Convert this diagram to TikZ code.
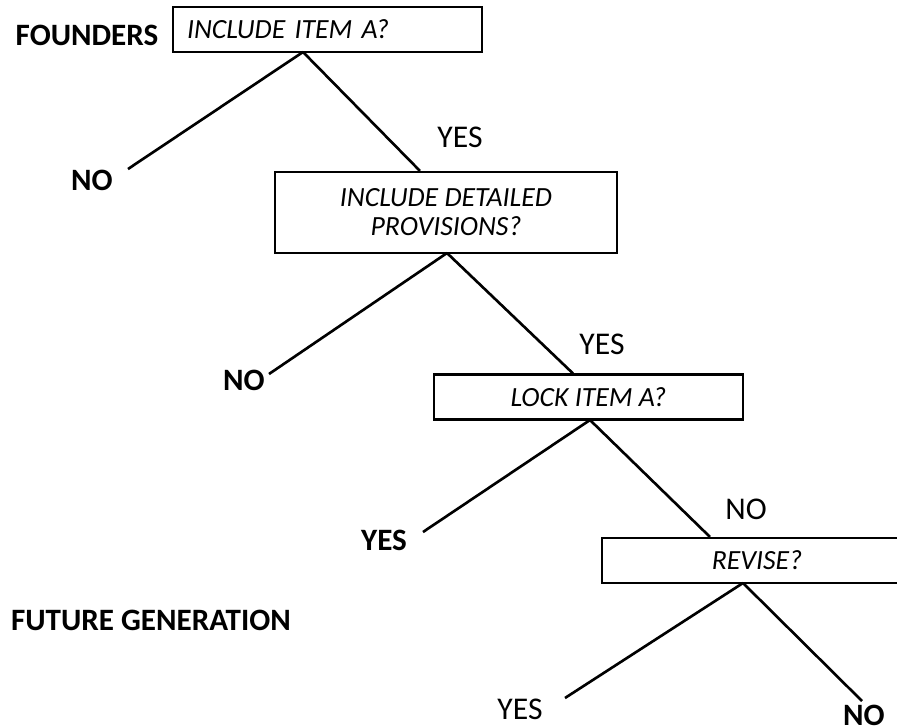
\documentclass[tikz,border=0pt]{standalone}
\usepackage{fontspec}
\setmainfont{Carlito}
\usepackage{tikz}
\usetikzlibrary{positioning}

\begin{document}
\begin{tikzpicture}[
  x=0.02cm, y=-0.02cm,
  every node/.style={inner sep=0pt, font=\fontsize{18}{20}\selectfont},
  question/.style={
    draw,
    rectangle,
    line width=1.2pt,
    align=center,
    minimum height=0.9cm,
    font=\fontsize{15.8}{16.5}\selectfont\itshape
  },
  answer/.style={},
  party/.style={font=\fontsize{17.7}{20}\selectfont\bfseries},
  branch/.style={line width=1.5pt}
]
\useasboundingbox (0,0) rectangle (897,725);
\clip (0,0) rectangle (897,725);

% decision boxes
\node (incl) [question, minimum width=6.18cm, text width=5.62cm, align=left]
  at (327.5,29.5) {INCLUDE ITEM A?};
\node (detail) [question, minimum width=6.84cm, minimum height=1.62cm]
  at (446,212.5) {INCLUDE DETAILED\\PROVISIONS?};
\node (lock) [question, minimum width=6.18cm]
  at (588.5,397) {LOCK ITEM A?};
\node (revise) [question, minimum width=6.2cm]
  at (757,560.5) {REVISE?};

% who decides
\node (founders) [party] at (87,35) {FOUNDERS};
\node (future) [party] at (151,620) {FUTURE GENERATION};

% forks and free ends
\coordinate (inclfork) at (303,52);
\coordinate (detailfork) at (447,253);
\coordinate (lockfork) at (590,420);
\coordinate (revisefork) at (743,583);
\coordinate (inclno) at (128,169);
\coordinate (detailno) at (269,374);
\coordinate (lockyes) at (423,532);
\coordinate (reviseyes) at (565,698);
\coordinate (reviseno) at (862,701);

\draw[branch] (inclfork) -- (inclno);
\draw[branch] (inclfork) -- (detail.north -| 420,0);
\draw[branch] (detailfork) -- (detailno);
\draw[branch] (detailfork) -- (lock.north -| 573,0);
\draw[branch] (lockfork) -- (lockyes);
\draw[branch] (lockfork) -- (revise.north -| 710,0);
\draw[branch] (revisefork) -- (reviseyes);
\draw[branch] (revisefork) -- (reviseno);

% answers
\node (no1) [party] at (92,180) {NO};
\node (yes1) [answer] at (460,137) {YES};
\node (no2) [party] at (244,380) {NO};
\node (yes2) [answer] at (602,344) {YES};
\node (yes3) [party] at (384,540) {YES};
\node (no3) [answer] at (746,509) {NO};
\node (yes4) [answer] at (520,709) {YES};
\node (no4) [party] at (864,715) {NO};

\end{tikzpicture}
\end{document}
